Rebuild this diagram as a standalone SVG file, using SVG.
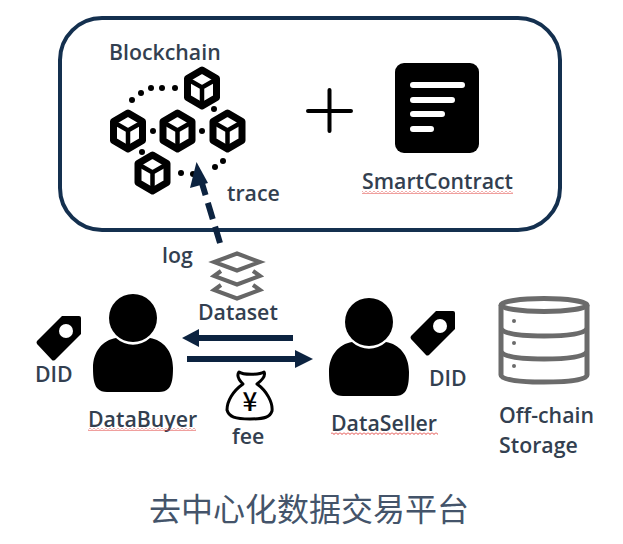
<svg xmlns="http://www.w3.org/2000/svg" width="623" height="544" viewBox="0 0 623 544">
<style>
.t{font-family:"Open Sans","Noto Sans","Liberation Sans",sans-serif;font-weight:600;font-size:21.300px;fill:#333f50}
.wavy{fill:url(#zig)}
.conn{stroke:#0c2340;fill:none}
.head{fill:#0c2340}
.dot{fill:#000}
.gray{fill:none;stroke:#6b6b6b;stroke-width:5}
</style>
<defs>
<pattern id="zig" width="4" height="3" patternUnits="userSpaceOnUse">
<path d="M0 0.500L2 2.500L4 0.500" fill="none" stroke="#e0403c" stroke-width="1"/>
</pattern>
<g id="cube">
<path d="M0-18L14.500-9.500V9.500L0 18L-14.500 9.500V-9.500Z" fill="#fff" stroke="#000" stroke-width="7" stroke-linejoin="round"/>
<path d="M-13-8L0-0.500L13-8M0-0.500V17" fill="none" stroke="#000" stroke-width="4.500"/>
</g>
<g id="person">
<circle cx="0" cy="0" r="24"/>
<path d="M-17 20C-7 29 7 29 17 20C30 22 40 33 40 50C40 60 39 66 36 70C33 73 30 74 26 74H-26C-30 74-33 73-36 70C-39 66-40 60-40 50C-40 33-30 22-17 20Z"/>
</g>
<g id="tag">
<path d="M25 0H42Q44 0 44 2V18L18 44Q16 45 15 44L0 28Q-1 26 0 25Z"/>
<circle cx="29" cy="15" r="7" fill="#fff"/>
</g>
</defs>

<rect id="platform" x="60" y="18" width="500" height="212" rx="42" fill="#fff" stroke="#14304f" stroke-width="4"/>

<g id="blockchain">
<g class="dot">
<circle cx="132" cy="100" r="3"/><circle cx="141" cy="93" r="3"/><circle cx="151" cy="88" r="3"/><circle cx="162" cy="88" r="3"/><circle cx="175" cy="88" r="3"/>
<circle cx="214" cy="109" r="3"/><circle cx="153" cy="131" r="3"/><circle cx="202" cy="131" r="3"/><circle cx="142" cy="152" r="3"/>
<circle cx="181" cy="173" r="3"/><circle cx="193" cy="174" r="3"/><circle cx="215" cy="167" r="3"/><circle cx="223" cy="161" r="3"/>
</g>
<use href="#cube" x="202" y="88"/><use href="#cube" x="128" y="131"/><use href="#cube" x="177.500" y="131"/><use href="#cube" x="227.500" y="131"/><use href="#cube" x="152.500" y="173"/>
<text class="t" x="109" y="60">Blockchain</text>
</g>

<g id="plus"><path d="M308 111H351M329.500 90V131" stroke="#000" stroke-width="4" stroke-linecap="round" fill="none"/></g>

<g id="smartcontract">
<rect x="395" y="63" width="84" height="90" rx="9" fill="#000"/>
<path d="M413 85H462M413 100H452M413 114H442M413 129H431" stroke="#fff" stroke-width="6" stroke-linecap="round" fill="none"/>
<text class="t" x="362" y="189">SmartContract</text>
<rect class="wavy" x="362" y="191" width="151" height="3"/>
</g>

<g id="connectors">
<path class="conn" d="M220 243L201 180" stroke-width="6" stroke-dasharray="17 8"/>
<path class="head" d="M196.500 162L208 183L190 188Z"/>
<path class="conn" d="M293 338H196" stroke-width="6"/>
<path class="head" d="M182 338L199 329V347Z"/>
<path class="conn" d="M187 359H297" stroke-width="6"/>
<path class="head" d="M313 359L295 350V368Z"/>
</g>
<text class="t" x="227" y="201">trace</text>
<text class="t" x="162" y="263">log</text>

<g id="dataset">
<g fill="none" stroke="#666" stroke-width="4" stroke-linejoin="miter">
<path d="M237 253.500L260 262L237 270.500L214 262Z"/>
<path d="M221 271L214 276L237 284.500L260 276L253 271"/>
<path d="M221 285L214 290L237 298.500L260 290L253 285"/>
</g>
<text class="t" x="198" y="320">Dataset</text>
</g>

<g id="databuyer">
<use href="#person" x="133" y="318"/>
<use href="#tag" x="37" y="316"/>
<text class="t" x="35" y="382">DID</text>
<text class="t" x="88" y="427">DataBuyer</text>
<rect class="wavy" x="88" y="428" width="108" height="3"/>
</g>

<g id="fee">
<path d="M239 372C243 375 259 375 264 372C266 376 261 381 257 384C267 391 273 403 272 411C270 417 265 419 250 419C235 419 229 417 227 410C227 401 233 391 243 384C240 381 236 376 239 372Z" fill="none" stroke="#000" stroke-width="3" stroke-linejoin="round"/>
<text x="250" y="411" text-anchor="middle" font-family="'Noto Sans CJK SC','Liberation Sans',sans-serif" font-size="26" font-weight="500" fill="#000">¥</text>
<text class="t" x="232" y="444">fee</text>
</g>

<g id="dataseller">
<use href="#person" x="369" y="322"/>
<use href="#tag" x="411" y="311"/>
<text class="t" x="429" y="386">DID</text>
<text class="t" x="331" y="431">DataSeller</text>
<rect class="wavy" x="331" y="432" width="107" height="3"/>
</g>

<g id="storage">
<ellipse class="gray" cx="544" cy="305" rx="43" ry="6.500"/>
<path class="gray" d="M501 305V375C501 380 520 382 544 382C568 382 587 380 587 375V305"/>
<path class="gray" d="M501 329C505 334 522 336 544 336C566 336 583 334 587 329"/>
<path class="gray" d="M501 352C505 357 522 359 544 359C566 359 583 357 587 352"/>
<circle cx="514" cy="321" r="2" fill="#6b6b6b"/><circle cx="514" cy="343" r="2" fill="#6b6b6b"/><circle cx="514" cy="366" r="2" fill="#6b6b6b"/>
<text class="t" x="499" y="423">Off-chain</text>
<text class="t" x="499" y="453">Storage</text>
</g>

<text x="149" y="521" font-family="'Noto Sans CJK SC',sans-serif" font-size="32" fill="#44546a">去中心化数据交易平台</text>
</svg>
